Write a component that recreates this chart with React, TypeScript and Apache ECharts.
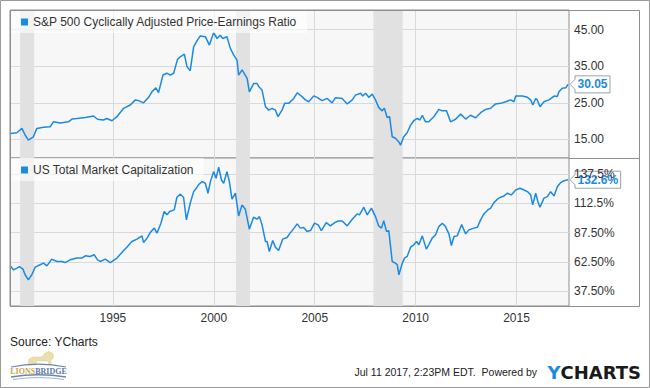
import React, { useEffect, useRef } from "react";
import * as echarts from "echarts";

const capeName = "S&P 500 Cyclically Adjusted Price-Earnings Ratio";
const mcapName = "US Total Market Capitalization";

const capeYears = [
  1989.91, 1990.24, 1990.49, 1990.65, 1990.81, 1991.06, 1991.23, 1991.56, 1991.89, 1992.05,
  1992.39, 1992.8, 1992.97, 1993.21, 1993.63, 1994.04, 1994.24, 1994.53, 1994.7, 1994.95,
  1995.2, 1995.53, 1995.86, 1996.11, 1996.27, 1996.52, 1996.77, 1996.93, 1997.13, 1997.26,
  1997.48, 1997.68, 1997.84, 1998.01, 1998.2, 1998.34, 1998.54, 1998.67, 1998.83, 1999.0,
  1999.17, 1999.33, 1999.58, 1999.78, 1999.99, 2000.16, 2000.32, 2000.44, 2000.65, 2000.82,
  2000.98, 2001.15, 2001.23, 2001.4, 2001.65, 2001.76, 2001.98, 2002.14, 2002.23, 2002.39,
  2002.56, 2002.72, 2002.89, 2003.05, 2003.18, 2003.38, 2003.51, 2003.71, 2003.96, 2004.13,
  2004.37, 2004.54, 2004.7, 2004.95, 2005.12, 2005.37, 2005.62, 2005.86, 2006.03, 2006.36,
  2006.61, 2006.86, 2007.02, 2007.27, 2007.38, 2007.52, 2007.68, 2007.85, 2008.01, 2008.17,
  2008.34, 2008.45, 2008.59, 2008.71, 2008.84, 2009.0, 2009.17, 2009.25, 2009.41, 2009.58,
  2009.75, 2009.91, 2010.08, 2010.21, 2010.33, 2010.49, 2010.65, 2010.9, 2011.15, 2011.32,
  2011.53, 2011.73, 2011.98, 2012.23, 2012.48, 2012.72, 2012.97, 2013.22, 2013.47, 2013.72,
  2013.96, 2014.21, 2014.46, 2014.71, 2014.87, 2014.96, 2015.29, 2015.54, 2015.7, 2015.81,
  2015.95, 2016.03, 2016.16, 2016.36, 2016.61, 2016.86, 2017.02, 2017.1, 2017.27, 2017.44,
  2017.55,
];
const capeValues = [
  16.6, 16.8, 18.0, 16.2, 14.8, 15.7, 18.0, 18.3, 18.45, 19.8,
  19.5, 19.8, 20.55, 20.7, 21.0, 21.4, 20.5, 20.3, 20.7, 20.1,
  21.2, 23.5, 24.4, 25.8, 25.6, 25.0, 26.5, 28.0, 29.1, 27.8,
  32.6, 33.1, 32.6, 33.1, 36.9, 37.6, 38.3, 34.9, 33.8, 40.3,
  42.0, 43.3, 43.1, 40.8, 44.2, 42.6, 43.5, 42.6, 43.1, 39.9,
  38.1, 36.7, 32.6, 34.0, 31.7, 28.0, 30.3, 30.3, 29.4, 28.5,
  23.9, 23.0, 23.5, 23.0, 21.2, 23.0, 24.85, 24.85, 26.2, 27.75,
  26.7, 25.8, 25.3, 26.9, 26.5, 25.6, 26.2, 25.0, 26.4, 26.2,
  24.7, 25.8, 27.1, 27.6, 26.85, 27.6, 26.5, 27.4, 25.8, 23.75,
  22.8, 23.5, 21.0, 21.2, 15.7, 15.3, 14.3, 13.4, 15.7, 16.8,
  18.9, 20.1, 20.75, 20.3, 21.6, 19.8, 19.8, 21.2, 23.2, 22.8,
  22.8, 19.8, 20.5, 21.9, 20.55, 21.6, 20.9, 22.3, 23.2, 23.5,
  24.7, 24.85, 25.3, 25.8, 25.3, 26.85, 26.85, 26.5, 25.8, 24.4,
  26.2, 25.8, 23.9, 25.3, 25.8, 26.85, 26.7, 28.0, 29.0, 29.1,
  30.05,
];

const mcapYears = [
  1989.91, 1990.07, 1990.24, 1990.37, 1990.54, 1990.65, 1990.81, 1990.98, 1991.15, 1991.39,
  1991.56, 1991.73, 1991.97, 1992.22, 1992.47, 1992.63, 1992.88, 1993.21, 1993.46, 1993.63,
  1993.87, 1994.07, 1994.24, 1994.37, 1994.62, 1994.87, 1995.2, 1995.53, 1995.69, 1995.94,
  1996.19, 1996.44, 1996.52, 1996.69, 1996.85, 1997.05, 1997.18, 1997.38, 1997.54, 1997.68,
  1997.81, 1998.04, 1998.17, 1998.34, 1998.5, 1998.64, 1998.83, 1999.0, 1999.13, 1999.25,
  1999.42, 1999.58, 1999.71, 1999.83, 1999.99, 2000.11, 2000.24, 2000.38, 2000.49, 2000.65,
  2000.77, 2000.9, 2001.07, 2001.23, 2001.4, 2001.56, 2001.76, 2001.97, 2002.14, 2002.26,
  2002.39, 2002.56, 2002.64, 2002.75, 2002.92, 2003.05, 2003.21, 2003.41, 2003.63, 2003.75,
  2003.91, 2004.13, 2004.29, 2004.45, 2004.62, 2004.79, 2004.99, 2005.17, 2005.33, 2005.57,
  2005.78, 2005.99, 2006.16, 2006.36, 2006.61, 2006.86, 2007.1, 2007.22, 2007.43, 2007.6,
  2007.81, 2008.01, 2008.17, 2008.31, 2008.42, 2008.56, 2008.67, 2008.84, 2009.0, 2009.09,
  2009.17, 2009.34, 2009.45, 2009.58, 2009.75, 2009.91, 2010.04, 2010.16, 2010.33, 2010.53,
  2010.65, 2010.82, 2010.99, 2011.15, 2011.32, 2011.48, 2011.65, 2011.77, 2011.9, 2012.06,
  2012.28, 2012.48, 2012.64, 2012.89, 2013.06, 2013.22, 2013.38, 2013.58, 2013.72, 2013.88,
  2014.05, 2014.21, 2014.38, 2014.54, 2014.74, 2014.96, 2015.17, 2015.37, 2015.54, 2015.7,
  2015.8, 2015.95, 2016.06, 2016.16, 2016.36, 2016.53, 2016.69, 2016.86, 2017.02, 2017.18,
  2017.36, 2017.55,
];
const mcapValues = [
  59.3, 55.9, 57.4, 58.7, 56.5, 51.7, 47.4, 51.7, 58.2, 60.2,
  61.6, 59.3, 65.0, 63.0, 63.0, 62.1, 64.4, 65.9, 65.9, 67.8,
  67.2, 68.7, 64.4, 63.0, 65.0, 62.1, 65.9, 72.3, 75.2, 80.0,
  82.0, 84.8, 79.1, 82.9, 87.6, 91.4, 87.1, 95.6, 105.5, 102.7,
  105.5, 106.9, 117.7, 120.3, 117.7, 98.4, 112.6, 122.5, 125.3, 128.5,
  131.0, 129.6, 121.1, 131.0, 139.5, 133.8, 143.2, 132.4, 129.6, 139.5,
  131.0, 116.0, 121.1, 101.8, 111.2, 107.5, 90.5, 100.7, 99.0, 101.2,
  94.2, 80.0, 80.0, 71.5, 80.8, 75.2, 72.3, 82.0, 83.4, 86.5,
  89.9, 95.0, 91.4, 91.9, 88.5, 89.3, 95.6, 94.2, 89.3, 96.1,
  93.3, 96.1, 97.5, 97.5, 93.3, 99.0, 103.5, 102.7, 109.2, 102.7,
  108.4, 101.2, 93.3, 91.4, 97.8, 88.5, 89.3, 63.0, 61.6, 60.2,
  51.7, 61.6, 65.9, 67.3, 75.2, 77.2, 80.0, 77.2, 84.8, 73.5,
  77.2, 82.9, 85.7, 92.7, 95.6, 92.7, 86.5, 76.6, 84.2, 84.8,
  94.4, 86.5, 89.9, 91.4, 92.2, 98.4, 103.5, 106.9, 108.4, 113.1,
  116.0, 117.7, 118.8, 121.1, 119.7, 123.9, 125.3, 123.9, 122.5, 119.7,
  111.2, 121.1, 113.9, 109.2, 116.9, 118.2, 122.5, 118.8, 126.7, 130.1,
  131.8, 132.6,
];

const capeTicks = [15, 25, 35, 45];
const mcapTicks = [37.5, 62.5, 87.5, 112.5, 137.5];
const mcapTickLabels = ["37.50%", "62.50%", "87.50%", "112.5%", "137.5%"];
const yearTicks = [1995, 2000, 2005, 2010, 2015];
const recessionStarts = [1990.4, 2001.1, 2007.91];
const recessionEnds = [1991.1, 2001.79, 2009.36];
const capeLastLabel = "30.05";
const mcapLastLabel = "132.6%";

const FONT = "'Liberation Sans', Arial, Helvetica, sans-serif";
const BLUE = "#1a8ae5";

export default function App() {
  const ref = useRef<HTMLDivElement>(null);

  useEffect(() => {
    const el = ref.current;
    if (!el) return;
    const chart = echarts.init(el, null, { renderer: "svg" });

    const areas = recessionStarts.map((s, i) => [{ xAxis: s }, { xAxis: recessionEnds[i] }]);
    const gridCommon = {
      left: 10,
      width: 559,
      height: 148,
      show: true,
      backgroundColor: "#f7f7f7",
      borderColor: "#8f8f8f",
      borderWidth: 1,
    };
    const xCommon = {
      type: "value",
      min: 1989.9,
      max: 2017.6,
      axisLine: { show: false },
      axisTick: { show: false, customValues: yearTicks },
      splitLine: { show: true, lineStyle: { color: "#d9d9d9", width: 1 } },
    };
    const legendCommon = {
      left: 10,
      orient: "horizontal",
      icon: "rect",
      itemWidth: 7,
      itemHeight: 7,
      selectedMode: false,
      padding: [6, 10, 5, 11],
      backgroundColor: "rgba(255,255,255,0.6)",
      textStyle: { fontSize: 12, color: "#333", fontFamily: FONT },
    };

    chart.setOption({
      animation: false,
      textStyle: { fontFamily: FONT },
      grid: [
        { ...gridCommon, top: 10 },
        { ...gridCommon, top: 158 },
      ],
      legend: [
        { ...legendCommon, top: 10, data: [capeName] },
        { ...legendCommon, top: 158, data: [mcapName] },
      ],
      xAxis: [
        { ...xCommon, gridIndex: 0, axisLabel: { show: false, customValues: yearTicks } },
        {
          ...xCommon,
          gridIndex: 1,
          axisLabel: {
            show: true,
            customValues: yearTicks,
            color: "#333",
            fontSize: 12,
            margin: 6,
            fontFamily: FONT,
            formatter: (v: number) => String(Math.round(v)),
          },
        },
      ],
      yAxis: [
        {
          type: "value",
          gridIndex: 0,
          position: "right",
          min: 9.9,
          max: 50.4,
          axisLine: { show: false },
          axisTick: { show: false, customValues: capeTicks },
          axisLabel: {
            customValues: capeTicks,
            color: "#333",
            fontSize: 12,
            margin: 5,
            fontFamily: FONT,
            formatter: (v: number) => v.toFixed(2),
          },
          splitLine: { show: true, lineStyle: { color: "#d9d9d9", width: 1 } },
        },
        {
          type: "value",
          gridIndex: 1,
          position: "right",
          min: 25.1,
          max: 151.1,
          axisLine: { show: false },
          axisTick: { show: false, customValues: mcapTicks },
          axisLabel: {
            customValues: mcapTicks,
            color: "#333",
            fontSize: 12,
            margin: 5,
            fontFamily: FONT,
            formatter: (v: number) => {
              const i = mcapTicks.findIndex((t) => Math.abs(t - v) < 1e-6);
              return i >= 0 ? mcapTickLabels[i] : "";
            },
          },
          splitLine: { show: true, lineStyle: { color: "#d9d9d9", width: 1 } },
        },
      ],
      series: [
        {
          name: capeName,
          type: "line",
          xAxisIndex: 0,
          yAxisIndex: 0,
          showSymbol: false,
          symbol: "none",
          color: BLUE,
          lineStyle: { color: BLUE, width: 1.5 },
          data: capeYears.map((y, i) => [y, capeValues[i]]),
          markArea: { silent: true, itemStyle: { color: "#e1e1e1" }, data: areas },
        },
        {
          name: mcapName,
          type: "line",
          xAxisIndex: 1,
          yAxisIndex: 1,
          showSymbol: false,
          symbol: "none",
          color: BLUE,
          lineStyle: { color: BLUE, width: 1.5 },
          data: mcapYears.map((y, i) => [y, mcapValues[i]]),
          markArea: { silent: true, itemStyle: { color: "#e1e1e1" }, data: areas },
        },
      ],
    });

    const measure = (txt: string, font: string) => {
      const c = document.createElement("canvas").getContext("2d");
      if (!c) return txt.length * 7;
      c.font = font;
      return c.measureText(txt).width;
    };

    const callout = (gridIndex: number, x: number, y: number, label: string) => {
      const p = chart.convertToPixel({ gridIndex } as any, [x, y]) as number[];
      const py = p[1];
      const tip = 570;
      const bx = 575;
      const w = measure(label, `bold 12px ${FONT}`) + 5;
      const h = 8.5;
      return {
        type: "group",
        z: 200,
        children: [
          {
            type: "polygon",
            shape: {
              points: [
                [tip, py],
                [bx, py - 5],
                [bx, py - h],
                [bx + w, py - h],
                [bx + w, py + h],
                [bx, py + h],
                [bx, py + 5],
              ],
            },
            style: { fill: "#fff", stroke: "#a0a0a0", lineWidth: 1 },
          },
          {
            type: "text",
            x: bx + 2.5,
            y: py,
            style: {
              text: label,
              fill: BLUE,
              font: `bold 12px ${FONT}`,
              verticalAlign: "middle",
              align: "left",
            },
          },
        ],
      };
    };

    const lionPts = [
      [28, 365], [29, 359], [33, 357], [42, 357], [45, 353], [49, 351.5], [53, 353.5],
      [53.5, 358], [51, 360], [51, 365], [49, 365], [48, 361], [37, 361], [35, 365],
      [32.5, 365], [32, 361], [30.5, 365],
    ];

    chart.setOption({
      graphic: [
        {
          type: "rect",
          z: 100,
          silent: true,
          shape: { x: 0.5, y: 0.5, width: 649, height: 387 },
          style: { fill: "none", stroke: "#9a9a9a", lineWidth: 1 },
        },
        {
          type: "rect",
          z: 100,
          silent: true,
          shape: { x: 10.5, y: 10.5, width: 629, height: 296 },
          style: { fill: "none", stroke: "#8f8f8f", lineWidth: 1 },
        },
        {
          type: "line",
          z: 100,
          silent: true,
          shape: { x1: 569, y1: 158.5, x2: 639.5, y2: 158.5 },
          style: { stroke: "#8f8f8f", lineWidth: 1 },
        },
        callout(0, capeYears[capeYears.length - 1], capeValues[capeValues.length - 1], capeLastLabel),
        callout(1, mcapYears[mcapYears.length - 1], mcapValues[mcapValues.length - 1], mcapLastLabel),
        {
          type: "text",
          x: 10,
          y: 342,
          style: { text: "Source: YCharts", fill: "#222", font: `12px ${FONT}`, verticalAlign: "middle" },
        },
        {
          type: "text",
          x: 537,
          y: 372,
          style: {
            text: "Jul 11 2017, 2:23PM EDT.  Powered by",
            fill: "#222",
            font: `10.5px ${FONT}`,
            align: "right",
            verticalAlign: "middle",
          },
        },
        {
          type: "text",
          x: 641,
          y: 372,
          style: {
            text: "{y|Y}{c|CHARTS}",
            align: "right",
            verticalAlign: "middle",
            rich: {
              y: { fill: BLUE, fontSize: 18, fontWeight: "bold", fontFamily: "'DejaVu Sans'" },
              c: { fill: "#1a1a1a", fontSize: 18, fontWeight: "bold", fontFamily: "'DejaVu Sans'" },
            },
          } as any,
        },
        {
          type: "polygon",
          shape: { points: lionPts },
          style: { fill: "#eadfae", stroke: "#dccb85", lineWidth: 0.5 },
        },
        {
          type: "bezierCurve",
          shape: { x1: 11, y1: 367, x2: 66, y2: 367, cpx1: 30, cpy1: 363, cpx2: 47, cpy2: 363 },
          style: { stroke: "#6b86b3", lineWidth: 1.2, fill: "none" },
        },
        {
          type: "bezierCurve",
          shape: { x1: 11, y1: 377, x2: 66, y2: 377, cpx1: 30, cpy1: 374, cpx2: 47, cpy2: 374 },
          style: { stroke: "#6b86b3", lineWidth: 1.5, fill: "none" },
        },
        {
          type: "bezierCurve",
          shape: { x1: 13, y1: 379.5, x2: 64, y2: 379.5, cpx1: 30, cpy1: 377, cpx2: 47, cpy2: 377 },
          style: { stroke: "#9fb2d3", lineWidth: 1, fill: "none" },
        },
        {
          type: "text",
          x: 38.5,
          y: 371,
          style: {
            text: "{l|LIONS}{b|BRIDGE}",
            align: "center",
            verticalAlign: "middle",
            rich: {
              l: { fill: "#c9a646", fontSize: 8, fontWeight: "bold", fontFamily: "'Liberation Serif', serif" },
              b: { fill: "#5c79a8", fontSize: 8, fontWeight: "bold", fontFamily: "'Liberation Serif', serif" },
            },
          } as any,
        },
      ],
    });

    return () => {
      chart.dispose();
    };
  }, []);

  return (
    <div
      ref={ref}
      style={{ position: "fixed", left: 0, top: 0, width: 650, height: 388, background: "#fff" }}
    />
  );
}
